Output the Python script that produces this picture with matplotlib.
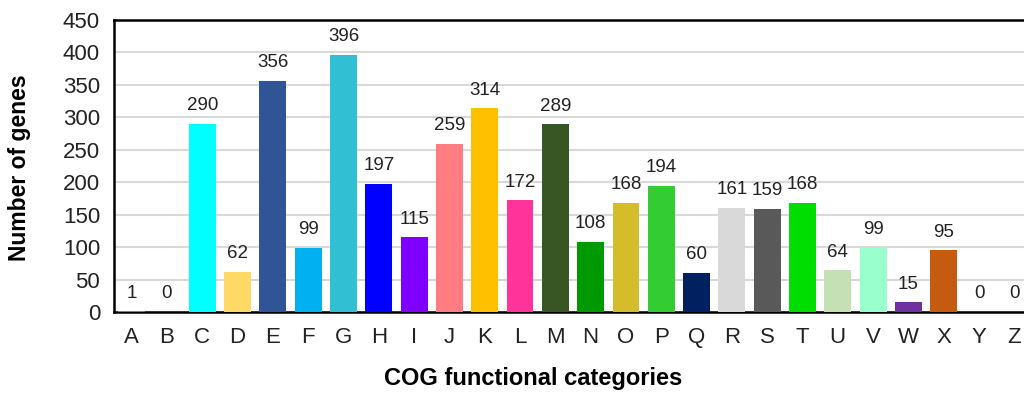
import matplotlib
matplotlib.use("Agg")
import matplotlib.pyplot as plt

categories = list("ABCDEFGHIJKLMNOPQRSTUVWXYZ")
values = [1, 0, 290, 62, 356, 99, 396, 197, 115, 259, 314, 172, 289, 108,
          168, 194, 60, 161, 159, 168, 64, 99, 15, 95, 0, 0]
colors = ["#7F7F7F", "#7F7F7F", "#00FFFF", "#FFD966", "#2F5597", "#00B0F0",
          "#31C0D3", "#0000FF", "#7F00FF", "#FF7C80", "#FFC000", "#FF3399",
          "#375623", "#009900", "#D4BC2B", "#33CC33", "#002060", "#D9D9D9",
          "#595959", "#00DD00", "#C5E0B4", "#99FFCC", "#7030A0", "#C55A11",
          "#7F7F7F", "#7F7F7F"]
yticks = [0, 50, 100, 150, 200, 250, 300, 350, 400, 450]

plt.rcParams['font.family'] = ['Liberation Sans', 'DejaVu Sans']

fig = plt.figure(figsize=(10.24, 3.94), dpi=100)
ax = fig.add_axes([114/1024, 1-312/394, (1032-114)/1024, (312-20)/394])

x = range(len(categories))
ax.bar(x, values, width=0.76, color=colors, zorder=3)
for xi, v in zip(x, values):
    ax.annotate(str(v), (xi, v), xytext=(0, 7), textcoords="offset points",
                ha="center", va="bottom", fontsize=13.5, color="#222222")

ax.set_xlim(-0.5, len(categories) - 0.5)
ax.set_ylim(0, 450)
ax.set_yticks(yticks)
ax.set_xticks(list(x))
ax.set_xticklabels(categories)
ax.tick_params(axis="both", length=0, labelsize=16, colors="#222222")
ax.tick_params(axis="y", pad=10)
ax.tick_params(axis="x", pad=11)
ax.yaxis.grid(True, color="#D9D9D9", linewidth=1.5, zorder=0)
ax.set_axisbelow(True)
for s in ["left", "top", "bottom", "right"]:
    ax.spines[s].set_linewidth(1.8)
    ax.spines[s].set_color("black")

fig.text(20/1024, 1-168/394, "Number of genes", rotation=90, ha="center",
         va="center", fontsize=16.5, fontweight="bold")
fig.text(533/1024, 1-378/394, "COG functional categories", ha="center",
         va="center", fontsize=17, fontweight="bold")

fig.savefig("out.png", dpi=100)
